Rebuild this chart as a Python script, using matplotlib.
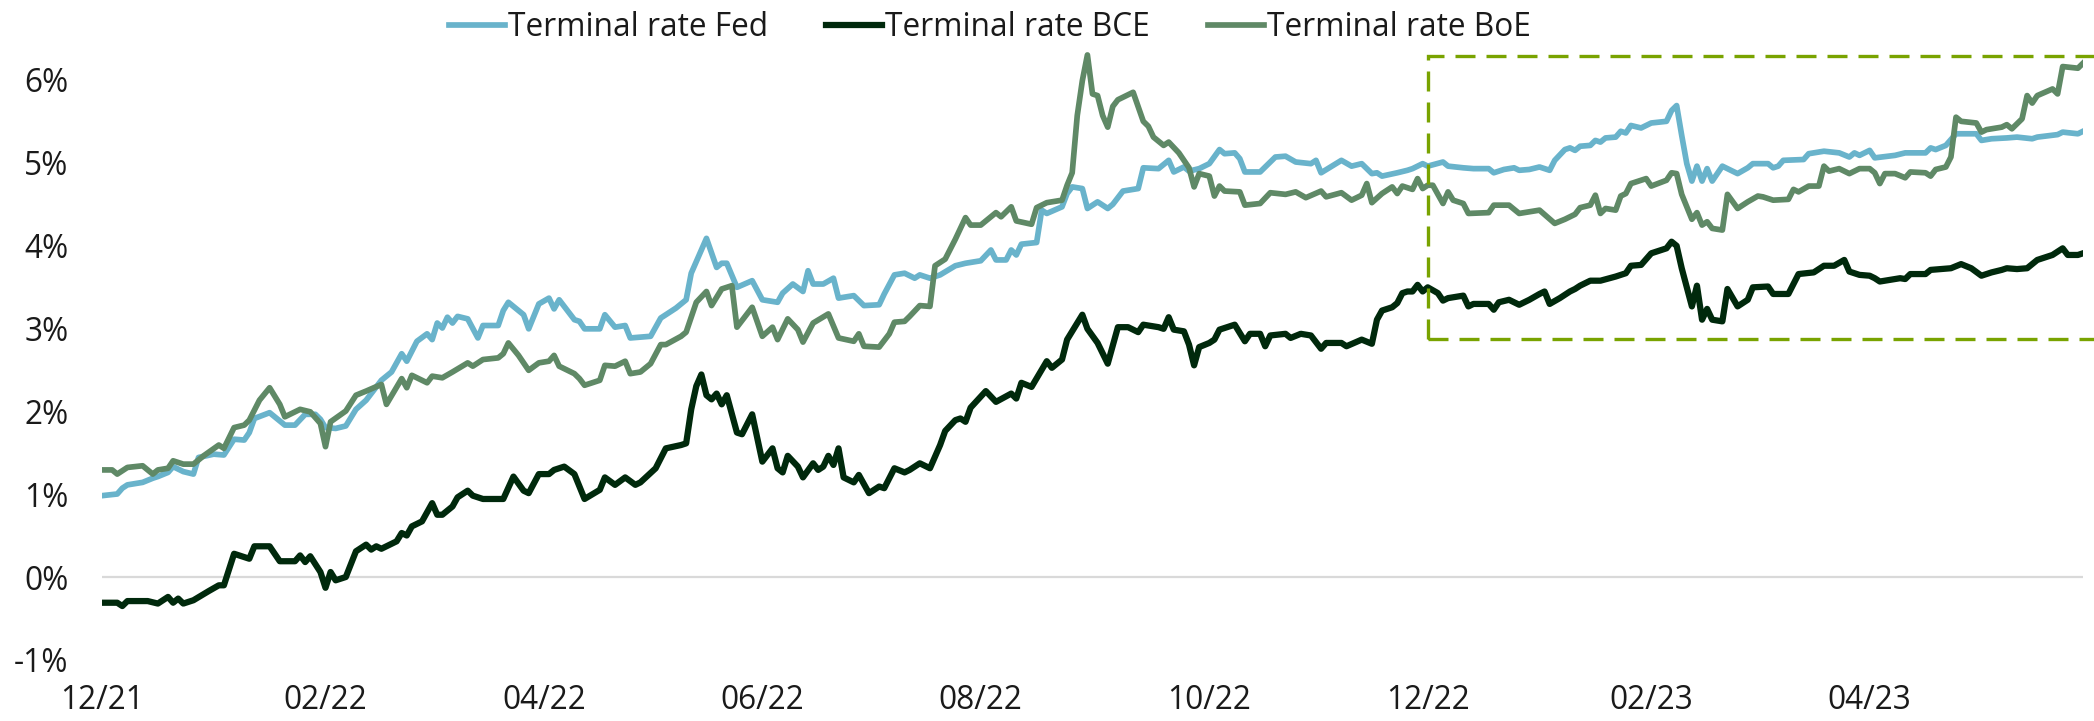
import matplotlib
matplotlib.use("Agg")
import matplotlib.pyplot as plt
import matplotlib.patches as mpatches
import numpy as np
import pandas as pd

plt.rcParams['font.family'] = ['Open Sans', 'DejaVu Sans']

# Business-day axis: 1 Dec 2021 .. 31 May 2023
dates = pd.bdate_range('2021-12-01', '2023-05-31')

# Terminal rate Fed (business-day index, %)
fed_days = [0, 3, 4, 5, 8, 10, 11, 13, 14, 16, 18, 19, 22, 24, 26, 28, 29, 30, 33, 36, 38, 40, 42, 43, 44, 46, 48,
            50, 52, 55, 57, 59, 60, 62, 64, 65, 66, 67, 68, 69, 70, 72, 74, 75, 78, 79, 80, 81, 83, 84, 85, 86, 88,
            89, 90, 93, 94, 95, 98, 99, 101, 103, 104, 108, 110, 113, 115, 116, 119, 121, 122, 123, 125, 128, 130,
            133, 134, 136, 138, 139, 140, 142, 144, 145, 148, 150, 153, 154, 156, 158, 160, 161, 163, 165, 168, 170,
            173, 175, 176, 178, 179, 180, 181, 184, 185, 186, 189, 190, 191, 193, 194, 196, 198, 199, 201, 204, 205,
            208, 210, 211, 213, 214, 216, 218, 220, 221, 223, 224, 225, 228, 231, 233, 235, 238, 239, 240, 244, 246,
            248, 250, 251, 252, 255, 257, 258, 260, 261, 264, 265, 268, 270, 273, 274, 276, 278, 279, 281, 283, 285,
            286, 288, 289, 290, 291, 293, 294, 295, 296, 298, 299, 300, 301, 303, 305, 308, 309, 310, 311, 312, 313,
            314, 315, 316, 317, 318, 319, 322, 324, 325, 328, 329, 330, 331, 335, 336, 339, 342, 344, 345, 346, 348,
            349, 353, 355, 359, 360, 361, 363, 365, 369, 370, 372, 375, 377, 380, 381, 385, 386, 389, 390]
fed_vals = [0.98, 1.00, 1.07, 1.11, 1.14, 1.19, 1.21, 1.26, 1.33, 1.27, 1.24, 1.44, 1.48, 1.47, 1.66, 1.65, 1.74,
            1.91, 1.98, 1.83, 1.83, 1.96, 1.96, 1.90, 1.80, 1.79, 1.82, 2.02, 2.13, 2.37, 2.47, 2.69, 2.60, 2.84,
            2.93, 2.86, 3.06, 3.00, 3.13, 3.06, 3.14, 3.11, 2.88, 3.03, 3.03, 3.21, 3.31, 3.26, 3.16, 2.99, 3.14,
            3.29, 3.36, 3.23, 3.34, 3.10, 3.08, 2.99, 2.99, 3.16, 3.01, 3.03, 2.88, 2.90, 3.12, 3.24, 3.34, 3.66,
            4.08, 3.73, 3.78, 3.78, 3.49, 3.57, 3.34, 3.31, 3.42, 3.53, 3.44, 3.69, 3.53, 3.53, 3.60, 3.36, 3.39,
            3.27, 3.28, 3.41, 3.64, 3.66, 3.60, 3.64, 3.60, 3.64, 3.75, 3.78, 3.81, 3.94, 3.82, 3.82, 3.94, 3.88,
            4.01, 4.03, 4.42, 4.38, 4.46, 4.62, 4.70, 4.68, 4.44, 4.52, 4.44, 4.49, 4.65, 4.68, 4.93, 4.92, 5.02,
            4.88, 4.94, 4.89, 4.92, 4.98, 5.15, 5.10, 5.11, 5.04, 4.88, 4.88, 5.06, 5.07, 5.00, 4.98, 5.02, 4.87,
            5.02, 4.95, 4.98, 4.86, 4.87, 4.83, 4.87, 4.90, 4.92, 4.98, 4.95, 5.00, 4.95, 4.93, 4.92, 4.92, 4.87,
            4.91, 4.93, 4.90, 4.91, 4.94, 4.90, 5.02, 5.15, 5.17, 5.14, 5.19, 5.20, 5.26, 5.24, 5.29, 5.30, 5.37,
            5.35, 5.44, 5.41, 5.47, 5.49, 5.62, 5.68, 5.32, 4.98, 4.77, 4.95, 4.77, 4.92, 4.77, 4.86, 4.95, 4.86,
            4.93, 4.98, 4.98, 4.93, 4.95, 5.02, 5.03, 5.10, 5.13, 5.11, 5.06, 5.11, 5.08, 5.14, 5.05, 5.08, 5.11,
            5.11, 5.17, 5.15, 5.20, 5.34, 5.34, 5.26, 5.28, 5.29, 5.30, 5.28, 5.30, 5.33, 5.36, 5.34, 5.37]

# Terminal rate BCE
bce_days = [0, 3, 4, 5, 9, 11, 13, 14, 15, 16, 18, 21, 23, 24, 26, 28, 29, 30, 33, 35, 38, 39, 40, 41, 43, 44, 45,
            46, 48, 50, 52, 53, 54, 55, 58, 59, 60, 61, 63, 65, 66, 67, 69, 70, 72, 73, 75, 79, 81, 83, 84, 86, 88,
            89, 91, 93, 94, 95, 98, 99, 101, 103, 105, 106, 109, 111, 114, 115, 116, 117, 118, 119, 120, 121, 122,
            123, 125, 126, 128, 130, 132, 133, 134, 135, 137, 138, 140, 141, 142, 143, 144, 145, 146, 148, 149, 151,
            153, 154, 156, 158, 159, 161, 163, 165, 166, 168, 169, 170, 171, 174, 176, 179, 180, 181, 183, 186, 187,
            189, 190, 192, 193, 194, 196, 198, 200, 202, 204, 205, 208, 209, 210, 211, 213, 214, 215, 216, 218, 219,
            220, 223, 225, 226, 228, 229, 230, 233, 234, 236, 238, 240, 241, 244, 245, 248, 250, 251, 252, 254, 255,
            256, 257, 258, 259, 260, 261, 263, 264, 265, 268, 269, 270, 273, 274, 275, 277, 279, 281, 283, 284, 285,
            287, 289, 290, 291, 293, 295, 298, 300, 301, 303, 305, 308, 309, 310, 311, 313, 314, 315, 316, 317, 319,
            320, 322, 324, 325, 328, 329, 332, 334, 337, 339, 341, 343, 344, 346, 348, 349, 350, 354, 355, 356, 359,
            360, 364, 366, 368, 370, 372, 374, 375, 377, 379, 381, 384, 386, 387, 389, 390]
bce_vals = [-0.31, -0.31, -0.35, -0.29, -0.29, -0.32, -0.24, -0.31, -0.26, -0.32, -0.28, -0.17, -0.10, -0.10, 0.28,
            0.24, 0.22, 0.37, 0.37, 0.19, 0.19, 0.26, 0.18, 0.25, 0.06, -0.13, 0.06, -0.04, 0.00, 0.31, 0.39, 0.33,
            0.37, 0.34, 0.43, 0.53, 0.50, 0.61, 0.67, 0.89, 0.75, 0.75, 0.85, 0.96, 1.04, 0.98, 0.94, 0.94, 1.21,
            1.04, 1.01, 1.24, 1.24, 1.29, 1.33, 1.24, 1.09, 0.94, 1.05, 1.20, 1.11, 1.20, 1.11, 1.14, 1.31, 1.55,
            1.59, 1.61, 2.02, 2.30, 2.44, 2.19, 2.14, 2.21, 2.08, 2.19, 1.74, 1.72, 1.96, 1.39, 1.55, 1.31, 1.26,
            1.46, 1.33, 1.20, 1.37, 1.29, 1.33, 1.46, 1.35, 1.55, 1.20, 1.14, 1.23, 1.01, 1.09, 1.07, 1.31, 1.26,
            1.29, 1.37, 1.31, 1.59, 1.76, 1.89, 1.91, 1.87, 2.04, 2.24, 2.11, 2.21, 2.15, 2.34, 2.29, 2.60, 2.52,
            2.62, 2.86, 3.06, 3.16, 2.99, 2.82, 2.57, 3.01, 3.01, 2.95, 3.04, 3.01, 2.99, 3.13, 2.98, 2.96, 2.80,
            2.55, 2.77, 2.82, 2.86, 2.98, 3.04, 2.84, 2.93, 2.93, 2.78, 2.91, 2.93, 2.88, 2.93, 2.91, 2.75, 2.82,
            2.82, 2.78, 2.86, 2.81, 3.10, 3.21, 3.25, 3.30, 3.42, 3.44, 3.44, 3.52, 3.44, 3.49, 3.42, 3.33, 3.36,
            3.39, 3.26, 3.29, 3.29, 3.22, 3.31, 3.34, 3.28, 3.34, 3.41, 3.44, 3.29, 3.36, 3.44, 3.47, 3.51, 3.57,
            3.57, 3.62, 3.66, 3.75, 3.76, 3.90, 3.96, 4.04, 3.99, 3.72, 3.26, 3.51, 3.10, 3.23, 3.10, 3.08, 3.47,
            3.26, 3.34, 3.49, 3.50, 3.41, 3.41, 3.65, 3.67, 3.75, 3.75, 3.82, 3.68, 3.64, 3.63, 3.60, 3.56, 3.60,
            3.59, 3.65, 3.65, 3.70, 3.72, 3.77, 3.72, 3.63, 3.67, 3.70, 3.72, 3.71, 3.72, 3.82, 3.88, 3.96, 3.88,
            3.88, 3.90]

# Terminal rate BoE
boe_days = [0, 2, 3, 5, 8, 10, 11, 13, 14, 16, 18, 20, 23, 24, 26, 28, 29, 31, 33, 35, 36, 39, 41, 43, 44, 45, 48,
            50, 52, 55, 56, 59, 60, 61, 64, 65, 67, 69, 72, 73, 75, 78, 79, 80, 82, 84, 86, 88, 89, 90, 93, 94, 95,
            98, 99, 101, 103, 104, 106, 108, 110, 111, 114, 115, 117, 119, 120, 122, 124, 125, 128, 130, 132, 133,
            135, 137, 138, 140, 143, 145, 148, 149, 150, 153, 155, 156, 158, 159, 161, 163, 164, 166, 168, 170, 171,
            173, 176, 177, 179, 180, 183, 184, 186, 189, 190, 191, 192, 193, 194, 195, 196, 197, 198, 199, 200, 203,
            205, 206, 207, 209, 210, 212, 214, 215, 216, 218, 219, 220, 221, 224, 225, 228, 230, 233, 235, 237, 240,
            241, 244, 246, 248, 249, 250, 252, 254, 255, 256, 258, 259, 260, 261, 262, 264, 265, 266, 268, 269, 273,
            274, 277, 279, 283, 286, 288, 290, 291, 293, 294, 295, 296, 298, 299, 300, 301, 304, 305, 308, 309, 310,
            311, 313, 314, 315, 316, 317, 319, 320, 322, 324, 326, 327, 329, 332, 333, 334, 336, 338, 339, 340, 342,
            344, 346, 348, 349, 350, 351, 353, 355, 356, 359, 360, 361, 363, 364, 365, 366, 369, 370, 371, 374, 375,
            376, 378, 379, 380, 381, 384, 385, 386, 389, 390]
boe_vals = [1.29, 1.29, 1.24, 1.32, 1.34, 1.24, 1.29, 1.31, 1.40, 1.36, 1.36, 1.46, 1.59, 1.55, 1.80, 1.83, 1.89,
            2.13, 2.28, 2.08, 1.93, 2.02, 1.99, 1.85, 1.57, 1.87, 2.00, 2.19, 2.24, 2.32, 2.08, 2.39, 2.28, 2.43,
            2.34, 2.42, 2.40, 2.47, 2.58, 2.54, 2.62, 2.64, 2.69, 2.82, 2.67, 2.49, 2.58, 2.60, 2.67, 2.54, 2.45,
            2.39, 2.31, 2.37, 2.55, 2.54, 2.60, 2.45, 2.47, 2.57, 2.80, 2.80, 2.90, 2.95, 3.31, 3.44, 3.27, 3.47,
            3.51, 3.01, 3.25, 2.90, 3.01, 2.86, 3.11, 2.98, 2.83, 3.06, 3.17, 2.88, 2.84, 2.93, 2.78, 2.77, 2.93,
            3.07, 3.08, 3.14, 3.27, 3.26, 3.75, 3.83, 4.07, 4.33, 4.24, 4.24, 4.39, 4.34, 4.46, 4.29, 4.25, 4.45,
            4.51, 4.54, 4.72, 4.87, 5.56, 5.98, 6.29, 5.82, 5.80, 5.56, 5.42, 5.67, 5.75, 5.84, 5.49, 5.43, 5.30,
            5.20, 5.24, 5.11, 4.93, 4.70, 4.86, 4.83, 4.59, 4.71, 4.65, 4.64, 4.48, 4.50, 4.63, 4.61, 4.64, 4.57,
            4.65, 4.58, 4.63, 4.54, 4.60, 4.74, 4.51, 4.62, 4.70, 4.62, 4.71, 4.67, 4.80, 4.68, 4.72, 4.72, 4.50,
            4.64, 4.54, 4.50, 4.38, 4.39, 4.48, 4.48, 4.38, 4.42, 4.26, 4.31, 4.37, 4.45, 4.48, 4.60, 4.38, 4.44,
            4.42, 4.59, 4.62, 4.74, 4.80, 4.71, 4.78, 4.87, 4.86, 4.61, 4.31, 4.39, 4.24, 4.28, 4.20, 4.18, 4.61,
            4.44, 4.52, 4.59, 4.58, 4.54, 4.55, 4.67, 4.64, 4.71, 4.71, 4.95, 4.89, 4.92, 4.86, 4.92, 4.92, 4.87,
            4.74, 4.86, 4.86, 4.81, 4.88, 4.87, 4.83, 4.91, 4.94, 5.06, 5.54, 5.49, 5.47, 5.36, 5.39, 5.42, 5.45,
            5.40, 5.52, 5.80, 5.71, 5.80, 5.88, 5.82, 6.15, 6.13, 6.19]

series_labels = ['Terminal rate Fed', 'Terminal rate BCE', 'Terminal rate BoE']
y_ticks = [-1, 0, 1, 2, 3, 4, 5, 6]
tick_months = [12, 2, 4, 6, 8, 10]
box_start = '2022-12-01'
box_low, box_high = 2.87, 6.28

FS = 22.8

fig = plt.figure(figsize=(20.94, 7.21), dpi=100)
ax = fig.add_axes([102 / 2094, 1 - 660 / 721, (2083 - 102) / 2094, (660 - 37.5) / 721])

c_fed, c_bce, c_boe = '#69B3CB', '#00290C', '#5F8966'
ax.axhline(0, color='#D9D9D9', lw=1.6, zorder=1)
h1, = ax.plot(fed_days, fed_vals, color=c_fed, lw=4.1, solid_joinstyle='round', zorder=3)
h2, = ax.plot(bce_days, bce_vals, color=c_bce, lw=4.5, solid_joinstyle='round', zorder=3)
h3, = ax.plot(boe_days, boe_vals, color=c_boe, lw=4.1, solid_joinstyle='round', zorder=4)

n = len(dates)
ax.set_xlim(0, n - 1)
ax.set_ylim(-1, 6.5)

# x ticks at first business day of every second month
pos, lab = [], []
for i, d in enumerate(dates):
    if d.month in tick_months and (i == 0 or dates[i - 1].month != d.month):
        pos.append(i)
        lab.append(d.strftime('%m/%y'))
ax.set_xticks(pos)
ax.set_xticklabels(lab)
ax.set_yticks(y_ticks)
ax.set_yticklabels([f'{v}%' for v in y_ticks])
ax.tick_params(axis='both', length=0, labelsize=FS, colors='#1A1A1A')
ax.tick_params(axis='y', pad=24)
ax.tick_params(axis='x', pad=17)
for s in ax.spines.values():
    s.set_visible(False)

# dashed highlight box
bx = int(np.searchsorted(dates, pd.Timestamp(box_start)))
rect = mpatches.Rectangle((bx, box_low), 150, box_high - box_low, fill=False,
                          edgecolor='#79A300', lw=2.4, linestyle=(0, (6.0, 3.3)),
                          clip_on=False, zorder=5)
ax.add_patch(rect)

fig.legend([h1, h2, h3], series_labels, loc='center', bbox_to_anchor=(990 / 2094, 1 - 28 / 721),
           ncol=3, frameon=False, fontsize=FS, handlelength=1.75, handletextpad=0.1,
           columnspacing=1.85, borderaxespad=0, labelcolor='#1A1A1A')

fig.savefig('out.png', dpi=100)
